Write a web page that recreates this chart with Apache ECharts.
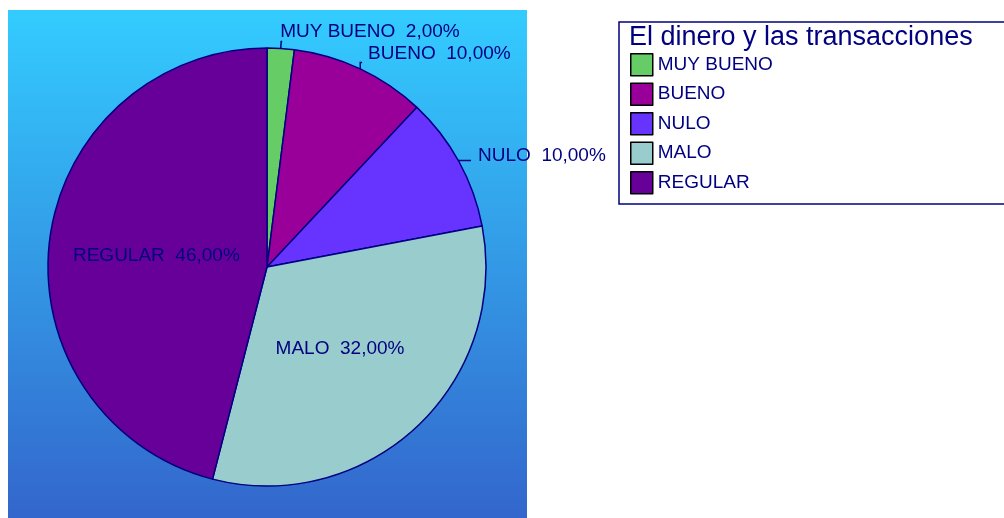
<!DOCTYPE html>
<html>
<head>
<meta charset="utf-8">
<script src="https://cdn.jsdelivr.net/npm/echarts@6/dist/echarts.min.js"></script>
<style>
  html, body { margin: 0; padding: 0; background: #fff; }
  #chart { width: 1004px; height: 518px; }
</style>
</head>
<body>
<div id="chart"></div>
<script>
  // datos
  const titulo = 'El dinero y las transacciones'
  const categorias = ['MUY BUENO', 'BUENO', 'NULO', 'MALO', 'REGULAR']
  const porcentajes = [2, 10, 10, 32, 46]
  const colores = ['#66cc66', '#990099', '#6633ff', '#99cccc', '#660099']

  const navy = '#000080'
  const font = '"Liberation Sans", Arial, sans-serif'

  // etiquetas: las tres primeras fuera, las otras dentro
  const fuera = [true, true, true, false, false]
  const lineas = [[7, 1], [10, 2], [2, 14], [0, 0], [0, 0]]
  const desplaz = [[-7, -10], [1, -9], [2, -5], [-4, 0], [1, 3]]

  const data = categorias.map((name, i) => ({
    name: name,
    value: porcentajes[i],
    itemStyle: { color: colores[i] },
    label: { position: fuera[i] ? 'outside' : 'inner' },
    labelLine: { show: fuera[i], length: lineas[i][0], length2: lineas[i][1] }
  }))

  const chart = echarts.init(document.getElementById('chart'))
  const option = {
    animation: false,
    textStyle: { fontFamily: font },
    graphic: [
      {
        type: 'rect',
        z: -10,
        shape: { x: 8, y: 10, width: 519, height: 508 },
        style: {
          fill: new echarts.graphic.LinearGradient(0, 0, 0, 1, [
            { offset: 0, color: '#33ccff' },
            { offset: 1, color: '#3366cc' }
          ])
        }
      },
      {
        type: 'rect',
        z: -10,
        shape: { x: 619, y: 22, width: 400, height: 182 },
        style: { fill: '#fff', stroke: navy, lineWidth: 1.5 }
      }
    ],
    title: {
      text: titulo,
      left: 629,
      top: 24,
      padding: 0,
      textStyle: { color: navy, fontSize: 27, fontWeight: 'normal', fontFamily: font }
    },
    legend: {
      orient: 'vertical',
      left: 630,
      top: 53,
      padding: 0,
      itemWidth: 22,
      itemHeight: 22,
      itemGap: 6,
      icon: 'rect',
      data: categorias,
      itemStyle: { borderColor: '#000', borderWidth: 1.5 },
      textStyle: { color: navy, fontSize: 19, lineHeight: 20, fontFamily: font }
    },
    series: [{
      type: 'pie',
      center: [267, 267],
      radius: 219,
      startAngle: 90,
      clockwise: true,
      data: data,
      itemStyle: { borderColor: navy, borderWidth: 1.5 },
      label: {
        color: navy,
        fontSize: 19,
        fontFamily: font,
        formatter: p => p.name + '  ' + p.value.toFixed(2).replace('.', ',') + '%'
      },
      labelLine: { lineStyle: { color: navy, width: 1.5 } },
      labelLayout: p => ({ dx: desplaz[p.dataIndex][0], dy: desplaz[p.dataIndex][1] })
    }]
  }
  chart.setOption(option)
</script>
</body>
</html>
